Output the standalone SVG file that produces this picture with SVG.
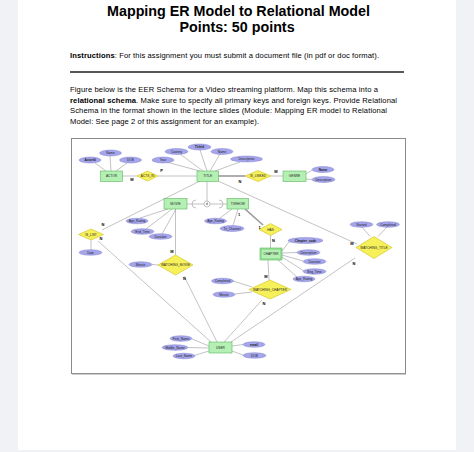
<svg xmlns="http://www.w3.org/2000/svg" width="474" height="452" viewBox="0 0 474 452">
<style>
.t{font-family:"Liberation Sans",Arial,sans-serif;fill:#000}
.h{font-size:14.3px;font-weight:bold;text-anchor:middle}
.p{font-size:7.6px}
.ent rect{fill:#b4f0b4;stroke:#5cb85c;stroke-width:0.6}
.att ellipse{fill:#a5a5ec;stroke:#6e6ec8;stroke-width:0.4}
.rel polygon{fill:#f6f05a;stroke:#c8b400;stroke-width:0.5}
.lbl{font-family:"Liberation Sans",Arial,sans-serif;font-size:3.2px;text-anchor:middle;fill:#222}
.key{font-weight:bold}
.card{font-family:"Liberation Sans",Arial,sans-serif;font-size:4px;font-weight:bold;fill:#000;text-anchor:middle}
#connectors line,#connectors path{stroke:#9a9a9a;stroke-width:0.6;fill:none}
#connectors .dbl{stroke-width:1.6}
</style>
<rect x="0" y="0" width="474" height="452" fill="#f1f2f6"/>
<rect x="18" y="0" width="438" height="450" fill="#ffffff"/>
<text class="t h" x="238.5" y="15.5">Mapping ER Model to Relational Model</text>
<text class="t h" x="237" y="31.5">Points: 50 points</text>
<text class="t p" x="70" y="57.5" textLength="309" lengthAdjust="spacing"><tspan font-weight="bold">Instructions</tspan>: For this assignment you must submit a document file (in pdf or doc format).</text>
<rect x="70" y="71.3" width="334" height="1.4" fill="#111"/>
<text class="t p" x="70" y="92" textLength="308" lengthAdjust="spacing">Figure below is the EER Schema for a Video streaming platform. Map this schema into a</text>
<text class="t p" x="70" y="102.5" textLength="327" lengthAdjust="spacing"><tspan font-weight="bold">relational schema</tspan>. Make sure to specify all primary keys and foreign keys. Provide Relational</text>
<text class="t p" x="70" y="113" textLength="317" lengthAdjust="spacing">Schema in the format shown in the lecture slides (Module: Mapping ER model to Relational</text>
<text class="t p" x="70" y="123.5" textLength="189" lengthAdjust="spacing">Model: See page 2 of this assignment for an example).</text>
<rect x="71.5" y="138.5" width="334" height="235" fill="#ffffff" stroke="#8a8a8a" stroke-width="1"/>
<line x1="72" y1="374" x2="406" y2="374" stroke="#9a9a9a" stroke-width="1"/>

<g id="connectors">
<line x1="111" y1="171" x2="110" y2="156"/>
<line x1="106" y1="171" x2="95" y2="163"/>
<line x1="116" y1="171" x2="127" y2="163"/>
<line x1="122" y1="176" x2="137" y2="176"/>
<line x1="158" y1="176" x2="197" y2="176"/>
<line x1="200" y1="171" x2="166" y2="162"/>
<line x1="203" y1="171" x2="180" y2="154"/>
<line x1="207" y1="171" x2="200" y2="150"/>
<line x1="210" y1="171" x2="220" y2="154"/>
<line x1="215" y1="171" x2="240" y2="162"/>
<line class="dbl" x1="218" y1="176" x2="245" y2="176"/>
<line x1="271" y1="176" x2="283" y2="176"/>
<line x1="306" y1="174" x2="312" y2="170"/>
<line x1="306" y1="179" x2="312" y2="179.5"/>
<line x1="218" y1="181" x2="357" y2="244"/>
<line x1="200" y1="181" x2="102" y2="230"/>
<line x1="207" y1="181" x2="207" y2="201"/>
<line x1="187" y1="204" x2="204" y2="204"/>
<line x1="210" y1="204" x2="227" y2="204"/>
<path d="M196,200 A4,4 0 0 0 196,208"/>
<path d="M219,200 A4,4 0 0 1 219,208"/>
<line x1="168" y1="209" x2="140" y2="218"/>
<line x1="172" y1="209" x2="146" y2="229"/>
<line x1="176" y1="209" x2="162" y2="234"/>
<line x1="175.5" y1="209" x2="175.5" y2="255"/>
<line x1="152" y1="264.5" x2="158" y2="265"/>
<line x1="232" y1="209" x2="220" y2="218"/>
<line x1="238" y1="209" x2="233" y2="225.5"/>
<line class="dbl" x1="245" y1="209" x2="263" y2="225"/>
<line x1="270.5" y1="235" x2="270.5" y2="248"/>
<line x1="282" y1="251" x2="289" y2="242"/>
<line x1="282" y1="253" x2="297" y2="252.5"/>
<line x1="282" y1="255" x2="303" y2="261"/>
<line x1="282" y1="257" x2="304" y2="271"/>
<line x1="278" y1="260" x2="297" y2="277"/>
<line x1="268" y1="260" x2="269" y2="280"/>
<line x1="233" y1="281" x2="252" y2="287"/>
<line x1="235" y1="294" x2="252" y2="292"/>
<line x1="91" y1="240" x2="91" y2="250"/>
<line x1="98" y1="241" x2="211" y2="342"/>
<line x1="217" y1="342" x2="184" y2="276"/>
<line x1="224" y1="342" x2="262" y2="300"/>
<line x1="231" y1="342" x2="355" y2="258"/>
<line x1="370" y1="236.5" x2="362" y2="227"/>
<line x1="378" y1="236.5" x2="387" y2="227"/>
<line x1="209" y1="346" x2="192" y2="339"/>
<line x1="209" y1="348" x2="188" y2="347.5"/>
<line x1="209" y1="351" x2="194" y2="355.5"/>
<line x1="232" y1="346" x2="243" y2="344.5"/>
<line x1="232" y1="351" x2="243" y2="355"/>
</g>

<g id="disjoint"><circle cx="207" cy="204" r="3" fill="#fff" stroke="#9a9a9a" stroke-width="0.6"/><text class="lbl" x="207" y="205.2" font-size="3.5">d</text></g>

<g id="ACTOR" class="ent"><rect x="100.5" y="171" width="22" height="10.5"/><text class="lbl" x="111.5" y="177.3">ACTOR</text></g>
<g id="TITLE" class="ent"><rect x="197" y="171" width="21.5" height="10.5"/><text class="lbl" x="207.7" y="177.3">TITLE</text></g>
<g id="GENRE" class="ent"><rect x="283" y="171" width="23" height="10.5"/><text class="lbl" x="294.5" y="177.3">GENRE</text></g>
<g id="MOVIE" class="ent"><rect x="164" y="198.5" width="23" height="10.5"/><text class="lbl" x="175.5" y="204.8">MOVIE</text></g>
<g id="TVSHOW" class="ent"><rect x="227" y="198.5" width="21.5" height="10.5"/><text class="lbl" x="237.7" y="204.8">TVSHOW</text></g>
<g id="CHAPTER" class="ent"><rect x="260" y="248" width="22" height="12"/><rect x="261" y="249" width="20" height="10"/><text class="lbl" x="271" y="255">CHAPTER</text></g>
<g id="USER" class="ent"><rect x="209" y="342" width="23" height="11"/><text class="lbl" x="220.5" y="348.5">USER</text></g>

<g id="ACTS_IN" class="rel"><polygon points="137,176 147.5,171 158,176 147.5,181"/><text class="lbl" x="147.5" y="177.2">ACTS_IN</text></g>
<g id="IS_LINKED" class="rel"><polygon points="245,176 258,170.5 271,176 258,181.5"/><text class="lbl" x="258" y="177.2">IS_LINKED</text></g>
<g id="IS_LIST" class="rel"><polygon points="78.5,234.5 91,229 103.5,234.5 91,240"/><text class="lbl" x="91" y="235.7">IS_LIST</text></g>
<g id="HAS" class="rel"><polygon points="259,229.5 270.5,223.5 282,229.5 270.5,235.5"/><text class="lbl" x="270.5" y="230.7">HAS</text></g>
<g id="WATCHING_MOVIE" class="rel"><polygon points="158,265 175.5,255 193,265 175.5,275"/><text class="lbl" x="175.5" y="266.2">WATCHING_MOVIE</text></g>
<g id="WATCHING_CHAPTER" class="rel"><polygon points="249,289.5 270,280 291,289.5 270,299"/><text class="lbl" x="270" y="290.7">WATCHING_CHAPTER</text></g>
<g id="WATCHING_TITLE" class="rel"><polygon points="356,247.5 374,236.5 392,247.5 374,258.5"/><text class="lbl" x="374" y="248.7">WATCHING_TITLE</text></g>

<g id="attributes" class="att">
<g id="a_actorid"><ellipse cx="90" cy="160" rx="11" ry="3"/><text class="lbl key" x="90" y="161.1">ActorId</text></g>
<g id="a_actor_name"><ellipse cx="110.5" cy="153" rx="11" ry="3"/><text class="lbl" x="110.5" y="154.1">Name</text></g>
<g id="a_actor_dob"><ellipse cx="130.5" cy="160" rx="11" ry="3"/><text class="lbl" x="130.5" y="161.1">DOB</text></g>
<g id="a_year"><ellipse cx="163" cy="160" rx="11" ry="3"/><text class="lbl" x="163" y="161.1">Year</text></g>
<g id="a_country"><ellipse cx="176.5" cy="151.5" rx="11.5" ry="3"/><text class="lbl" x="176.5" y="152.6">Country</text></g>
<g id="a_titleid"><ellipse cx="199.5" cy="147" rx="11.5" ry="3"/><text class="lbl key" x="199.5" y="148.1">TitleId</text></g>
<g id="a_title_name"><ellipse cx="222" cy="151.5" rx="11" ry="3"/><text class="lbl" x="222" y="152.6">Name</text></g>
<g id="a_title_desc"><ellipse cx="246.5" cy="159" rx="16" ry="3"/><text class="lbl" x="246.5" y="160.1">Description</text></g>
<g id="a_genre_name"><ellipse cx="323" cy="169.5" rx="11" ry="3"/><text class="lbl key" x="323" y="170.6">Name</text></g>
<g id="a_genre_desc"><ellipse cx="323.5" cy="179.5" rx="11.5" ry="3"/><text class="lbl" x="323.5" y="180.6">Description</text></g>
<g id="a_movie_age"><ellipse cx="137" cy="221" rx="11" ry="2.8"/><text class="lbl" x="137" y="222.1">Age_Rating</text></g>
<g id="a_movie_end"><ellipse cx="142.5" cy="231.5" rx="11.5" ry="2.8"/><text class="lbl" x="142.5" y="232.6">End_Time</text></g>
<g id="a_movie_dur"><ellipse cx="160.5" cy="236.5" rx="11.5" ry="2.8"/><text class="lbl" x="160.5" y="237.6">Duration</text></g>
<g id="a_tv_age"><ellipse cx="215.5" cy="221" rx="11" ry="2.8"/><text class="lbl" x="215.5" y="222.1">Age_Rating</text></g>
<g id="a_tv_channel"><ellipse cx="232" cy="228.5" rx="12" ry="3"/><text class="lbl" x="232" y="229.6">Tv_Channel</text></g>
<g id="a_date"><ellipse cx="90.5" cy="252.5" rx="11.5" ry="2.8"/><text class="lbl" x="90.5" y="253.6">Date</text></g>
<g id="a_movie_minute"><ellipse cx="140.5" cy="264.5" rx="11.5" ry="2.8"/><text class="lbl" x="140.5" y="265.6">Minute</text></g>
<g id="a_chapter_code"><ellipse cx="305.5" cy="240.5" rx="17.5" ry="3"/><text class="lbl key" x="305.5" y="241.6">Chapter_code</text></g>
<g id="a_chap_desc"><ellipse cx="308.5" cy="252.5" rx="11.5" ry="2.8"/><text class="lbl" x="308.5" y="253.6">Description</text></g>
<g id="a_chap_dur"><ellipse cx="314.5" cy="261.5" rx="11.5" ry="2.8"/><text class="lbl" x="314.5" y="262.6">Duration</text></g>
<g id="a_chap_beg"><ellipse cx="314.5" cy="271.5" rx="11.5" ry="2.8"/><text class="lbl" x="314.5" y="272.6">Beg_Time</text></g>
<g id="a_chap_age"><ellipse cx="304" cy="279" rx="11" ry="2.8"/><text class="lbl" x="304" y="280.1">Age_Rating</text></g>
<g id="a_wc_completed"><ellipse cx="222.5" cy="281" rx="11" ry="2.8"/><text class="lbl" x="222.5" y="282.1">Completed</text></g>
<g id="a_wc_minute"><ellipse cx="224" cy="294.5" rx="11" ry="2.8"/><text class="lbl" x="224" y="295.6">Minute</text></g>
<g id="a_started"><ellipse cx="361.5" cy="224.5" rx="11.5" ry="2.8"/><text class="lbl" x="361.5" y="225.6">Started</text></g>
<g id="a_wt_completed"><ellipse cx="388" cy="224.5" rx="11.5" ry="2.8"/><text class="lbl" x="388" y="225.6">Completed</text></g>
<g id="a_first"><ellipse cx="181" cy="338.5" rx="11" ry="2.8"/><text class="lbl" x="181" y="339.6">First_Name</text></g>
<g id="a_middle"><ellipse cx="175" cy="347.5" rx="13" ry="2.8"/><text class="lbl" x="175" y="348.6">Middle_Name</text></g>
<g id="a_last"><ellipse cx="184" cy="356" rx="11" ry="2.8"/><text class="lbl" x="184" y="357.1">Last_Name</text></g>
<g id="a_email"><ellipse cx="254" cy="344.5" rx="11" ry="2.8"/><text class="lbl key" x="254" y="345.6">email</text></g>
<g id="a_user_dob"><ellipse cx="254.5" cy="355.5" rx="11.5" ry="2.8"/><text class="lbl" x="254.5" y="356.6">DOB</text></g>
</g>

<g id="cardinalities">
<text class="card" x="132" y="180.5">M</text>
<text class="card" x="161.5" y="172">P</text>
<text class="card" x="240" y="182.5">N</text>
<text class="card" x="276" y="173">M</text>
<text class="card" x="103" y="225.5">N</text>
<text class="card" x="101" y="239.5">N</text>
<text class="card" x="239" y="215.5">1</text>
<text class="card" x="259.5" y="228.5">1</text>
<text class="card" x="273.5" y="241.5">N</text>
<text class="card" x="266" y="277.5">M</text>
<text class="card" x="264" y="304.5">N</text>
<text class="card" x="172" y="252.5">M</text>
<text class="card" x="184.5" y="279.5">N</text>
<text class="card" x="352" y="244.5">M</text>
<text class="card" x="354" y="264.5">N</text>
</g>
</svg>
